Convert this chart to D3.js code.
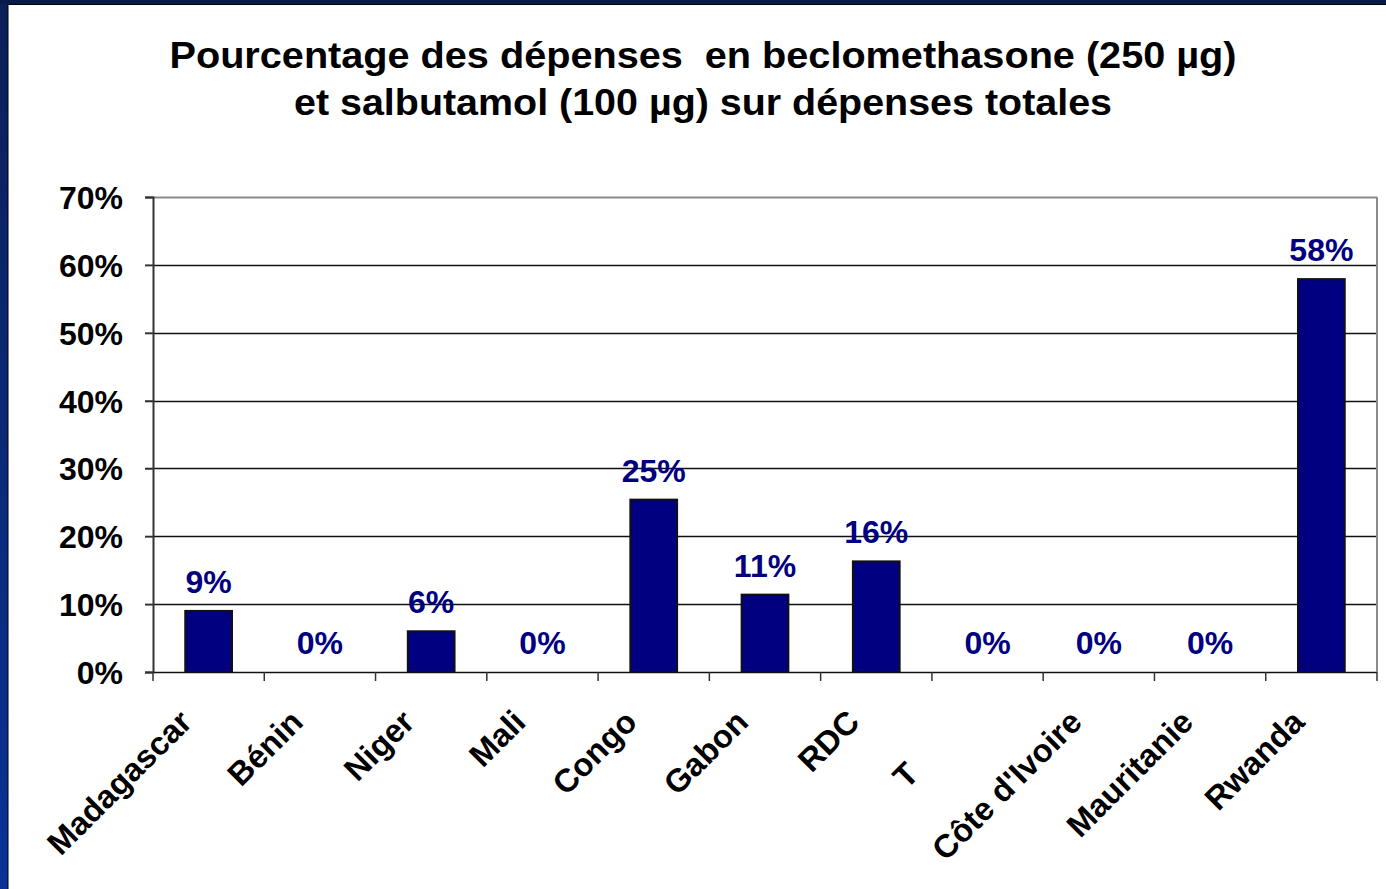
<!DOCTYPE html>
<html>
<head>
<meta charset="utf-8">
<script src="https://cdn.jsdelivr.net/npm/d3@7"></script>
<style>
  html, body { margin: 0; padding: 0; background: #fff; }
  svg { display: block; font-family: "Liberation Sans", Arial, sans-serif; }
</style>
</head>
<body>
<div id="chart"></div>
<script>
// categories and values (percent)
const countries = ["Madagascar", "Bénin", "Niger", "Mali", "Congo", "Gabon", "RDC", "Tchad", "Côte d'Ivoire", "Mauritanie", "Rwanda"];
const shares = [9.0, 0, 6.0, 0, 25.4, 11.4, 16.3, 0, 0, 0, 57.9];
const valueLabels = ["9%", "0%", "6%", "0%", "25%", "11%", "16%", "0%", "0%", "0%", "58%"];
const yTicks = [0, 10, 20, 30, 40, 50, 60, 70];
const titleLines = ["Pourcentage des dépenses  en beclomethasone (250 µg)", "et salbutamol (100 µg) sur dépenses totales"];
const titleWidths = [1067, 818];

const W = 1386, H = 889;
const margin = { left: 153, right: 9, top: 197, bottom: 217 };

const svg = d3.select("#chart").append("svg")
    .attr("width", W)
    .attr("height", H);

// dark blue slide frame on the left and top
const grad = svg.append("defs").append("linearGradient")
    .attr("id", "frame").attr("x1", 0).attr("y1", 0).attr("x2", 0).attr("y2", 1);
grad.append("stop").attr("offset", "0%").attr("stop-color", "#0b1f58");
grad.append("stop").attr("offset", "100%").attr("stop-color", "#0a3396");
svg.append("rect").attr("x", 0).attr("y", 0).attr("width", 8).attr("height", H).attr("fill", "url(#frame)");
svg.append("rect").attr("x", 0).attr("y", 0).attr("width", W).attr("height", 4).attr("fill", "#061a4c");
svg.append("line").attr("x1", 8).attr("x2", 8).attr("y1", 4).attr("y2", H).attr("stroke", "#000").attr("stroke-width", 1);
svg.append("line").attr("x1", 8).attr("x2", W).attr("y1", 4.5).attr("y2", 4.5).attr("stroke", "#000").attr("stroke-width", 1);

// title (slide text is a little wider than Liberation Sans, so stretch to fit)
svg.append("g").selectAll("text")
    .data(titleLines)
    .join("text")
    .attr("x", 703)
    .attr("y", (d, i) => 68 + i * 47)
    .attr("text-anchor", "middle")
    .attr("font-size", 36)
    .attr("font-weight", "bold")
    .attr("fill", "#000")
    .attr("textLength", (d, i) => titleWidths[i])
    .attr("lengthAdjust", "spacingAndGlyphs")
    .style("white-space", "pre")
    .text(d => d);

const x = d3.scaleBand()
    .domain(countries)
    .range([margin.left, W - margin.right])
    .paddingInner(0.58)
    .paddingOuter(0.29);

const y = d3.scaleLinear()
    .domain([0, 70])
    .range([H - margin.bottom, margin.top]);

const plotR = W - margin.right;

// grid lines
svg.append("g").selectAll("line")
    .data(yTicks)
    .join("line")
    .attr("x1", margin.left - 8)
    .attr("x2", plotR)
    .attr("y1", d => Math.round(y(d)) + 0.5)
    .attr("y2", d => Math.round(y(d)) + 0.5)
    .attr("stroke", d => d === 70 ? "#8a8a8a" : "#111")
    .attr("stroke-width", d => d === 70 ? 2 : 1.3);

// right border of plot area
svg.append("line")
    .attr("x1", plotR).attr("x2", plotR)
    .attr("y1", y(70)).attr("y2", y(0))
    .attr("stroke", "#8a8a8a").attr("stroke-width", 2);

// y axis
const yAxis = svg.append("g")
    .attr("transform", `translate(${margin.left},0)`)
    .call(d3.axisLeft(y).tickValues(yTicks).tickFormat(d => d + "%").tickSize(8).tickPadding(22));
yAxis.select(".domain").attr("stroke", "#333").attr("stroke-width", 2);
yAxis.selectAll(".tick line").attr("stroke", "#333").attr("stroke-width", 1.5);
yAxis.selectAll(".tick text")
    .attr("font-size", 32)
    .attr("font-weight", "bold")
    .attr("font-family", "Liberation Sans, Arial, sans-serif")
    .attr("fill", "#000")
    .attr("dy", "0.36em");

// x axis ticks between categories
const step = x.step();
const bounds = d3.range(countries.length + 1).map(i => margin.left + i * step);
svg.append("g").selectAll("line")
    .data(bounds)
    .join("line")
    .attr("x1", d => d).attr("x2", d => d)
    .attr("y1", y(0)).attr("y2", y(0) + 9)
    .attr("stroke", "#333").attr("stroke-width", 1.5);

// bars
svg.append("g").selectAll("rect")
    .data(countries.map((c, i) => ({ c, v: shares[i] })).filter(d => d.v > 0))
    .join("rect")
    .attr("x", d => x(d.c))
    .attr("y", d => y(d.v))
    .attr("width", x.bandwidth())
    .attr("height", d => y(0) - y(d.v))
    .attr("fill", "#000080")
    .attr("stroke", "#111")
    .attr("stroke-width", 2);

// value labels
svg.append("g").selectAll("text")
    .data(countries.map((c, i) => ({ c, v: shares[i], t: valueLabels[i] })))
    .join("text")
    .attr("x", d => x(d.c) + x.bandwidth() / 2)
    .attr("y", d => y(d.v) - 18)
    .attr("text-anchor", "middle")
    .attr("font-size", 32)
    .attr("font-weight", "bold")
    .attr("fill", "#000080")
    .text(d => d.t);

// rotated category labels
const cat = svg.append("g").selectAll("text")
    .data(countries)
    .join("text")
    .attr("transform", d => `translate(${x(d) + x.bandwidth() / 2 - 15},${y(0) + 52}) rotate(-45)`)
    .attr("text-anchor", "end")
    .attr("font-size", 32.5)
    .attr("font-weight", "bold")
    .attr("fill", "#000");
cat.each(function (d) {
    const t = d3.select(this);
    if (d === "Tchad") {
        // only the first letter is visible on the slide
        t.append("tspan").text("T");
        t.append("tspan").attr("fill", "#fff").text("chad");
    } else {
        t.text(d);
    }
});
</script>
</body>
</html>
